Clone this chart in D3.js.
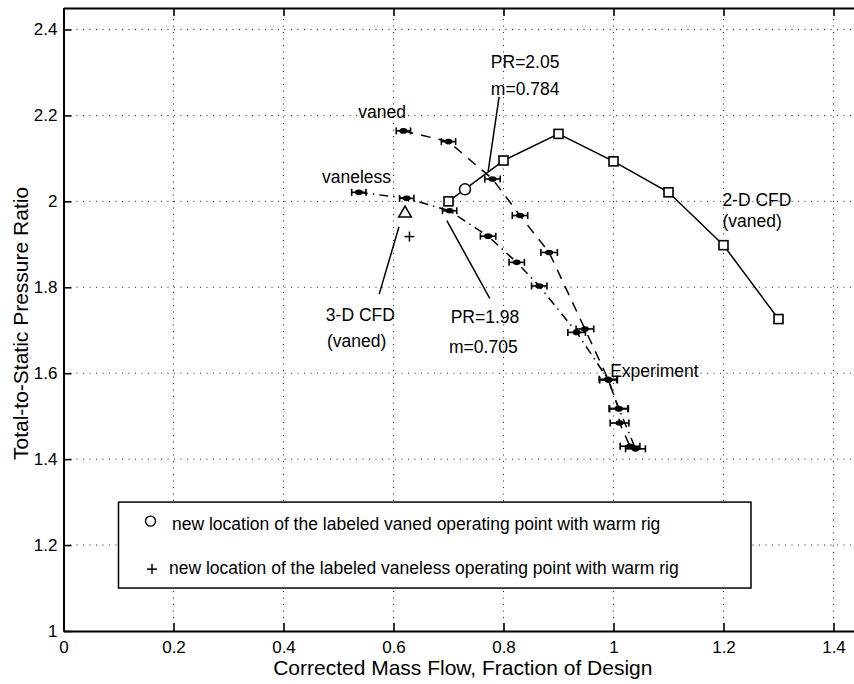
<!DOCTYPE html>
<html>
<head>
<meta charset="utf-8">
<script src="https://cdn.jsdelivr.net/npm/d3@7"></script>
<style>
  html, body { margin: 0; padding: 0; background: #fff; }
  svg { display: block; }
  text { font-family: "Liberation Sans", Arial, Helvetica, sans-serif; fill: #000; }
</style>
</head>
<body>
<svg id="chart" width="854" height="684"></svg>
<script>
// Axis ticks
const xTicks = [0, 0.2, 0.4, 0.6, 0.8, 1.0, 1.2, 1.4];
const yTicks = [1, 1.2, 1.4, 1.6, 1.8, 2.0, 2.2, 2.4];

// 2-D CFD (vaned) speedline
const cfd2dX = [0.7, 0.8, 0.9, 1.0, 1.1, 1.2, 1.3];
const cfd2dY = [2.000, 2.095, 2.157, 2.093, 2.021, 1.898, 1.726];

// Experiment, vaned diffuser (dashed) with mass-flow uncertainty
const vanedX   = [0.618, 0.700, 0.780, 0.830, 0.883, 0.948, 0.991, 1.009, 1.011, 1.030];
const vanedY   = [2.164, 2.139, 2.052, 1.967, 1.881, 1.703, 1.584, 1.518, 1.484, 1.430];
const vanedErr = [0.013, 0.013, 0.014, 0.014, 0.015, 0.016, 0.016, 0.017, 0.017, 0.018];

// Experiment, vaneless diffuser (dash-dot) with mass-flow uncertainty
const vanelessX   = [0.537, 0.624, 0.702, 0.772, 0.824, 0.865, 0.933, 0.990, 1.010, 1.040];
const vanelessY   = [2.021, 2.007, 1.978, 1.919, 1.858, 1.803, 1.695, 1.586, 1.517, 1.424];
const vanelessErr = [0.013, 0.013, 0.013, 0.014, 0.014, 0.014, 0.016, 0.016, 0.017, 0.018];

// Single points: 3-D CFD, warm-rig vaned (circle), warm-rig vaneless (plus)
const cfd3dPoint = [0.621, 1.972];
const warmVaned = [0.730, 2.028];
const warmVaneless = [0.629, 1.918];

// Annotation leader lines [x1, y1, x2, y2] in data units
const leaderPR205 = [0.792, 2.243, 0.772, 2.069];
const leader3D    = [0.610, 1.941, 0.574, 1.784];
const leaderPR198 = [0.697, 1.955, 0.775, 1.774];

// Text labels [text, x, y] in data units (left-aligned, baseline)
const labels = [
  ["PR=2.05", 0.777, 2.311],
  ["m=0.784", 0.777, 2.248],
  ["vaned", 0.536, 2.194],
  ["vaneless", 0.470, 2.042],
  ["2-D CFD", 1.198, 1.989],
  ["(vaned)", 1.198, 1.940],
  ["3-D CFD", 0.477, 1.722],
  ["(vaned)", 0.479, 1.660],
  ["PR=1.98", 0.704, 1.716],
  ["m=0.705", 0.701, 1.648],
  ["Experiment", 0.994, 1.592]
];

// Legend entries and frame (data units)
const legendItems = [
  ["circle", "new location of the labeled vaned operating point with warm rig"],
  ["plus", "new location of the labeled vaneless operating point with warm rig"]
];
const legendBox = { x0: 0.1, x1: 1.25, y0: 1.1, y1: 1.3 };

const svg = d3.select("#chart");
const margin = { left: 63.5, top: 8, bottom: 631, right: 861 };

const x = d3.scaleLinear().domain([0, 1.45]).range([margin.left, margin.right]);
const y = d3.scaleLinear().domain([1, 2.45]).range([margin.bottom, margin.top]);

svg.append("rect").attr("width", 854).attr("height", 684).attr("fill", "#fff");

// Dotted grid
const grid = svg.append("g").attr("stroke", "#000").attr("stroke-width", 1)
  .attr("stroke-dasharray", "1,5.5").attr("opacity", 0.85);
grid.selectAll("line.vx").data(xTicks.filter(d => d > 0)).join("line")
  .attr("x1", d => x(d)).attr("x2", d => x(d))
  .attr("y1", margin.bottom).attr("y2", margin.top);
grid.selectAll("line.hy").data(yTicks.filter(d => d > 1)).join("line")
  .attr("y1", d => y(d)).attr("y2", d => y(d))
  .attr("x1", margin.left).attr("x2", margin.right);

// Axes
const fmt = d => String(+d.toFixed(1));
const xAxis = d3.axisBottom(x).tickValues(xTicks).tickFormat(fmt)
  .tickSizeInner(-8).tickSizeOuter(0).tickPadding(10);
const yAxis = d3.axisLeft(y).tickValues(yTicks).tickFormat(fmt)
  .tickSizeInner(-8).tickSizeOuter(0).tickPadding(6);
const xTop = d3.axisTop(x).tickValues(xTicks).tickFormat("")
  .tickSizeInner(-8).tickSizeOuter(0);

function styleAxis(g) {
  g.select(".domain").attr("stroke", "#000").attr("stroke-width", 2);
  g.selectAll(".tick line").attr("stroke", "#000").attr("stroke-width", 1.6);
  g.selectAll(".tick text").attr("font-size", 17)
    .attr("font-family", '"Liberation Sans", Arial, Helvetica, sans-serif').attr("fill", "#000");
}
svg.append("g").attr("transform", `translate(0,${margin.bottom})`).call(xAxis).call(styleAxis);
svg.append("g").attr("transform", `translate(${margin.left},0)`).call(yAxis).call(styleAxis);
svg.append("g").attr("transform", `translate(0,${margin.top})`).call(xTop).call(styleAxis);

// Axis titles
svg.append("text").attr("x", x(0.726)).attr("y", 675)
  .attr("text-anchor", "middle").attr("font-size", 21)
  .text("Corrected Mass Flow, Fraction of Design");
svg.append("text")
  .attr("transform", `translate(28,${(y(1) + y(2.45)) / 2 + 4}) rotate(-90)`)
  .attr("text-anchor", "middle").attr("font-size", 21)
  .text("Total-to-Static Pressure Ratio");

const plot = svg.append("g");

// 2-D CFD line + square markers
const cfd2d = cfd2dX.map((v, i) => [v, cfd2dY[i]]);
plot.append("path").datum(cfd2d)
  .attr("fill", "none").attr("stroke", "#000").attr("stroke-width", 1.5)
  .attr("d", d3.line().x(d => x(d[0])).y(d => y(d[1])));
plot.selectAll("rect.sq").data(cfd2d).join("rect")
  .attr("x", d => x(d[0]) - 4.5).attr("y", d => y(d[1]) - 4.5)
  .attr("width", 9).attr("height", 9)
  .attr("fill", "#fff").attr("stroke", "#000").attr("stroke-width", 1.6);

// Experimental lines with horizontal error bars
function expSeries(xs, ys, errs, dash) {
  const pts = xs.map((v, i) => ({ x: v, y: ys[i], e: errs[i] }));
  plot.append("path").datum(pts)
    .attr("fill", "none").attr("stroke", "#000").attr("stroke-width", 1.5)
    .attr("stroke-dasharray", dash)
    .attr("d", d3.line().x(d => x(d.x)).y(d => y(d.y)));
  const g = plot.append("g").attr("stroke", "#000").attr("stroke-width", 1.6);
  pts.forEach(p => {
    const cy = y(p.y), xl = x(p.x - p.e), xr = x(p.x + p.e);
    g.append("line").attr("x1", xl).attr("x2", xr).attr("y1", cy).attr("y2", cy);
    g.append("line").attr("x1", xl).attr("x2", xl).attr("y1", cy - 3.5).attr("y2", cy + 3.5);
    g.append("line").attr("x1", xr).attr("x2", xr).attr("y1", cy - 3.5).attr("y2", cy + 3.5);
    g.append("ellipse").attr("cx", x(p.x)).attr("cy", cy).attr("rx", 4).attr("ry", 2.8)
      .attr("fill", "#000").attr("stroke", "none");
  });
}
expSeries(vanedX, vanedY, vanedErr, "10,8");
expSeries(vanelessX, vanelessY, vanelessErr, "9,5,1.5,5");

// 3-D CFD triangle
const tri = d3.symbol().type(d3.symbolTriangle).size(70);
plot.append("path").attr("d", tri())
  .attr("transform", `translate(${x(cfd3dPoint[0])},${y(cfd3dPoint[1])})`)
  .attr("fill", "none").attr("stroke", "#000").attr("stroke-width", 1.5);

// Warm-rig points
plot.append("circle").attr("cx", x(warmVaned[0])).attr("cy", y(warmVaned[1])).attr("r", 5.5)
  .attr("fill", "#fff").attr("stroke", "#000").attr("stroke-width", 1.5);
function plus(g, cx, cy, s) {
  g.append("line").attr("x1", cx - s).attr("x2", cx + s).attr("y1", cy).attr("y2", cy)
    .attr("stroke", "#000").attr("stroke-width", 1.5);
  g.append("line").attr("x1", cx).attr("x2", cx).attr("y1", cy - s).attr("y2", cy + s)
    .attr("stroke", "#000").attr("stroke-width", 1.5);
}
plus(plot, x(warmVaneless[0]), y(warmVaneless[1]), 5);

// Leader lines
[leaderPR205, leader3D, leaderPR198].forEach(l => {
  plot.append("line").attr("x1", x(l[0])).attr("y1", y(l[1]))
    .attr("x2", x(l[2])).attr("y2", y(l[3]))
    .attr("stroke", "#000").attr("stroke-width", 1.5);
});

// Text labels
plot.selectAll("text.lbl").data(labels).join("text")
  .attr("x", d => x(d[1])).attr("y", d => y(d[2]))
  .attr("font-size", 17.5).text(d => d[0]);

// Legend
const lg = svg.append("g");
lg.append("rect")
  .attr("x", x(legendBox.x0)).attr("y", y(legendBox.y1))
  .attr("width", x(legendBox.x1) - x(legendBox.x0))
  .attr("height", y(legendBox.y0) - y(legendBox.y1))
  .attr("fill", "#fff").attr("stroke", "#000").attr("stroke-width", 1.5);
legendItems.forEach((it, i) => {
  const cy = y(legendBox.y1) + 21 + i * 44;
  const mx = x(legendBox.x0) + 32;
  if (it[0] === "circle") {
    lg.append("circle").attr("cx", mx).attr("cy", cy - 2).attr("r", 5)
      .attr("fill", "none").attr("stroke", "#000").attr("stroke-width", 1.4);
    lg.append("text").attr("x", mx + 21.5).attr("y", cy + 7).attr("font-size", 17.5).text(it[1]);
  } else {
    plus(lg, mx + 1.5, cy + 2, 5);
    lg.append("text").attr("x", mx + 18.5).attr("y", cy + 6.5).attr("font-size", 17.5).text(it[1]);
  }
});
</script>
</body>
</html>
